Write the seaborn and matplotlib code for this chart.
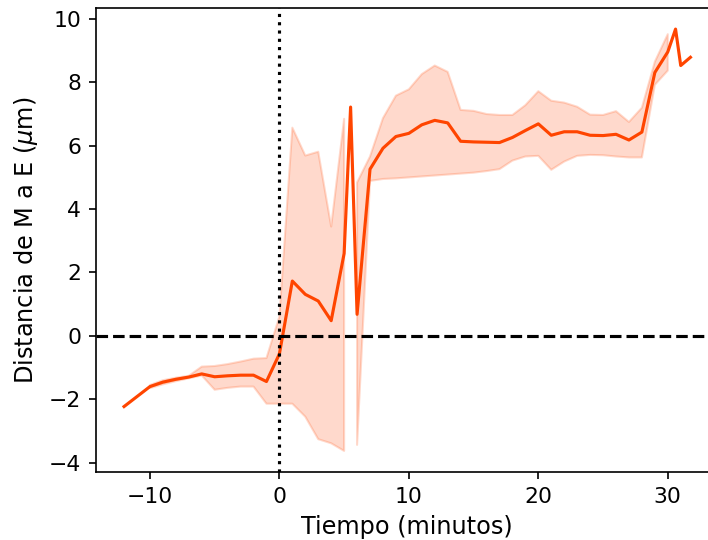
import numpy as np
import matplotlib
matplotlib.use('Agg')
import matplotlib.pyplot as plt
import seaborn as sns

# Tiempo relativo al evento (minutos)
tiempo = [-12, -10, -9, -8, -7, -6, -5, -4, -3, -2, -1, 0, 1, 2, 3, 4, 5, 5.5, 6,
          7, 8, 9, 10, 11, 12, 13, 14, 15, 16, 17, 18, 19, 20, 21, 22, 23, 24,
          25, 26, 27, 28, 29, 30, 30.6, 31, 31.75]

# Distancia media de M a E (um)
media = [-2.23, -1.60, -1.46, -1.37, -1.30, -1.20, -1.29, -1.26, -1.24, -1.24,
         -1.44, -0.57, 1.73, 1.31, 1.10, 0.48, 2.60, 7.22, 0.68,
         5.26, 5.92, 6.29, 6.39, 6.66, 6.80, 6.72, 6.14, 6.12, 6.11, 6.10,
         6.26, 6.48, 6.69, 6.33, 6.44, 6.44, 6.33, 6.32, 6.36, 6.18, 6.43,
         8.31, 8.96, 9.68, 8.53, 8.79]

# Intervalo de confianza (limites inferior y superior)
inferior = [np.nan, -1.65, -1.53, -1.43, -1.34, -1.25, -1.70, -1.64, -1.60, -1.60,
            -2.14, -2.14, -2.14, -2.55, -3.26, -3.39, -3.63, np.nan, -3.44,
            4.89, 4.95, 4.97, 5.00, 5.03, 5.06, 5.09, 5.12, 5.15, 5.20, 5.26,
            5.53, 5.66, 5.68, 5.24, 5.50, 5.68, 5.71, 5.70, 5.66, 5.63, 5.63,
            7.92, 8.37, np.nan, np.nan, np.nan]
superior = [np.nan, -1.55, -1.40, -1.32, -1.26, -0.97, -0.95, -0.89, -0.81, -0.72,
            -0.70, 0.61, 6.57, 5.69, 5.81, 3.45, 6.85, np.nan, 4.84,
            5.66, 6.87, 7.58, 7.78, 8.26, 8.53, 8.33, 7.13, 7.10, 7.00, 6.97,
            6.97, 7.28, 7.72, 7.42, 7.36, 7.23, 6.98, 6.97, 7.09, 6.75, 7.20,
            8.65, 9.52, np.nan, np.nan, np.nan]

fig = plt.figure(figsize=(4.72, 3.6), dpi=150)
ax = fig.add_axes([0.1352, 0.1259, 0.880, 0.8593])

ax.fill_between(tiempo, inferior, superior, color='orangered', alpha=0.2)
sns.lineplot(x=tiempo, y=media, color='orangered', ax=ax)

ax.axvline(0, color='black', linestyle=':')
ax.axhline(0, color='black', linestyle='--')

ax.set_xlabel('Tiempo (minutos)', fontsize=11.5)
ax.set_ylabel(r'Distancia de M a E ($\mu$m)', fontsize=11.5)
ax.tick_params(labelsize=10.5)

fig.savefig('out.png', dpi=150)
